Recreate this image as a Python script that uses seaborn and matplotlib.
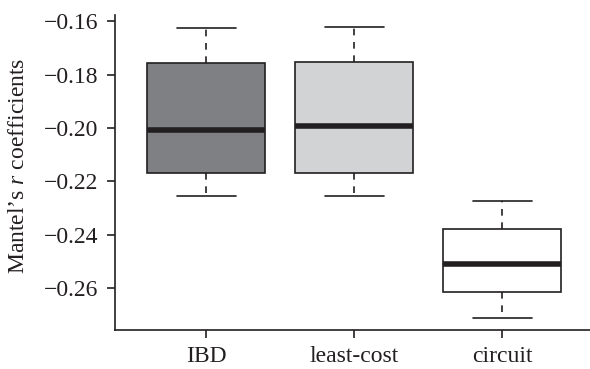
import numpy as np
import pandas as pd
import matplotlib
matplotlib.use("Agg")
import matplotlib.pyplot as plt
import seaborn as sns

# Box summaries (Mantel's r)
methods = ["IBD", "least-cost", "circuit"]
whisker_low = [-0.2254, -0.2254, -0.2713]
q1 = [-0.2170, -0.2170, -0.2615]
median = [-0.2007, -0.1992, -0.2508]
q3 = [-0.1756, -0.1751, -0.2380]
whisker_high = [-0.1625, -0.1620, -0.2274]
fill_colors = ["#7f8083", "#d2d3d5", "#ffffff"]

# five points per method reproduce the quartiles exactly
rows = []
for i, m in enumerate(methods):
    for v in [whisker_low[i], q1[i], median[i], q3[i], whisker_high[i]]:
        rows.append({"method": m, "r": v})
df = pd.DataFrame(rows)

sns.set_style("ticks")
plt.rcParams["font.family"] = ["Liberation Serif", "DejaVu Serif"]
plt.rcParams["mathtext.fontset"] = "custom"
plt.rcParams["mathtext.it"] = "Liberation Serif:italic"
plt.rcParams["mathtext.rm"] = "Liberation Serif"

ink = "#231f20"

fig = plt.figure(figsize=(5.9, 3.69), dpi=100)
ax = fig.add_axes([0.1941, 0.1057, 0.8124, 0.8537])

sns.boxplot(data=df, x="method", y="r", hue="method", order=methods,
            palette=fill_colors, saturation=1, legend=False, width=0.8,
            whis=(0, 100), linecolor=ink, linewidth=1.2, ax=ax,
            whiskerprops={"linestyle": (0, (4, 4))},
            medianprops={"linewidth": 4, "color": ink})

ax.set_xlim(-0.62, 2.62)
ax.set_ylim(-0.2757, -0.1576)
ax.set_yticks([-0.26, -0.24, -0.22, -0.20, -0.18, -0.16])
ax.set_yticklabels(["\u22120.26", "\u22120.24", "\u22120.22",
                    "\u22120.20", "\u22120.18", "\u22120.16"])

for s in ["top", "right"]:
    ax.spines[s].set_visible(False)
for s in ["left", "bottom"]:
    ax.spines[s].set_linewidth(1.2)
    ax.spines[s].set_color(ink)

ax.tick_params(axis="both", labelsize=17, colors=ink, width=1.2,
               length=5.5, direction="out")
ax.tick_params(axis="y", pad=6)
ax.tick_params(axis="x", pad=6)

ax.set_xlabel("")
ax.set_ylabel("Mantel\u2019s $r$ coefficients", fontsize=17, color=ink)
ax.yaxis.set_label_coords(-0.178, 0.52)

fig.savefig("out.png", dpi=100)
